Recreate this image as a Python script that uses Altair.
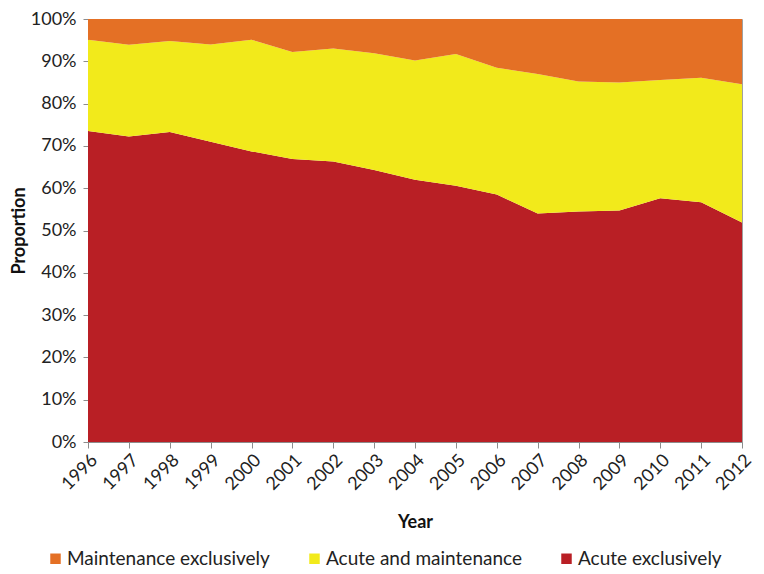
import altair as alt
import pandas as pd

years = list(range(1996, 2013))
series_names = ["Maintenance exclusively", "Acute and maintenance", "Acute exclusively"]
series_colors = ["#E47025", "#F2EA1B", "#B91F25"]

acute_excl = [73.5, 72.2, 73.3, 71.0, 68.7, 66.9, 66.3, 64.3, 62.0, 60.6, 58.5, 54.0, 54.5, 54.7, 57.6, 56.7, 51.9]
acute_maint = [21.6, 21.7, 21.5, 23.0, 26.4, 25.3, 26.7, 27.6, 28.2, 31.1, 30.0, 33.0, 30.7, 30.3, 28.0, 29.4, 32.7]
maint_excl = [4.9, 6.1, 5.2, 6.0, 4.9, 7.8, 7.0, 8.1, 9.8, 8.3, 11.5, 13.0, 14.8, 15.0, 14.4, 13.9, 15.4]

rows = []
for k, (name, vals) in enumerate([("Acute exclusively", acute_excl),
                                  ("Acute and maintenance", acute_maint),
                                  ("Maintenance exclusively", maint_excl)]):
    for y, v in zip(years, vals):
        rows.append({"year": y, "series": name, "value": v / 100.0, "k": k})
df = pd.DataFrame(rows)

FONT = "Lato"
W, H = 654, 423

chart = alt.Chart(df).mark_area().encode(
    x=alt.X("year:Q",
            scale=alt.Scale(domain=[1996, 2012], nice=False, zero=False),
            axis=alt.Axis(values=years, format="d", labelAngle=-45, title="Year",
                          labelFontSize=18, titleFontSize=18, titleFontWeight="bold",
                          labelOverlap=False, labelFlush=False,
                          tickSize=6, labelPadding=3, titlePadding=20, grid=False)),
    y=alt.Y("value:Q", stack="zero",
            scale=alt.Scale(domain=[0, 1], nice=False),
            axis=alt.Axis(values=[i / 10 for i in range(11)], format=".0%", title="Proportion",
                          labelFontSize=18, titleFontSize=18, titleFontWeight="bold",
                          labelFlush=False,
                          tickSize=5, labelPadding=7, titlePadding=2, grid=False)),
    color=alt.Color("series:N",
                    scale=alt.Scale(domain=series_names, range=series_colors),
                    legend=alt.Legend(orient="none", direction="horizontal", title=None,
                                      legendX=-42, legendY=H + 107,
                                      symbolType="square", symbolSize=110,
                                      symbolStrokeWidth=0, labelFontSize=19,
                                      labelLimit=0,
                                      labelOffset=2, columnPadding=35)),
    order=alt.Order("k:Q", sort="ascending"),
).properties(
    width=W, height=H,
    padding={"left": 2, "top": 2, "right": 0, "bottom": 0},
).configure_axis(
    domainColor="#8c8c8c", tickColor="#8c8c8c", labelColor="#222222", titleColor="#111111",
    labelFont=FONT, titleFont=FONT,
).configure_legend(
    labelFont=FONT, labelColor="#222222",
).configure_view(
    stroke="#a0a0a0", strokeWidth=1,
)

chart.save("out.html", embed_options={"renderer": "svg", "actions": False})
